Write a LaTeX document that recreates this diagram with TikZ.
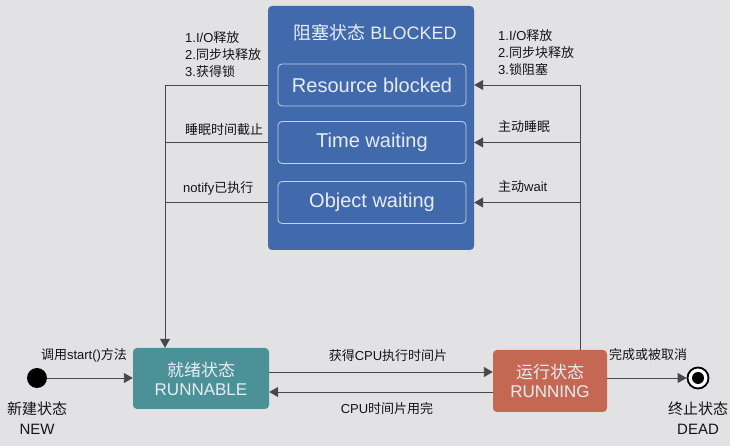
\documentclass[tikz,border=0pt]{standalone}
\usepackage{fontspec}
\setmainfont{Liberation Sans}
\newfontfamily\cjk{Noto Sans CJK SC}
\usetikzlibrary{arrows.meta,positioning}
\definecolor{paper}{RGB}{226,226,229}
\definecolor{blockblue}{RGB}{64,106,172}
\definecolor{readyteal}{RGB}{74,146,152}
\definecolor{runred}{RGB}{196,104,84}
\definecolor{wire}{RGB}{72,72,72}
\definecolor{boxtext}{RGB}{232,236,242}

\begin{document}
\begin{tikzpicture}[x=1pt,y=1pt,
  state/.style={rounded corners=4pt,text=boxtext,align=center,inner sep=0,font=\fontsize{17}{19}\selectfont},
  substate/.style={draw=boxtext!80!blockblue,line width=0.8pt,rounded corners=4pt,minimum width=188pt,minimum height=42pt,text=boxtext,font=\fontsize{20}{24}\selectfont},
  wireline/.style={draw=wire,line width=0.9pt},
  flow/.style={wireline,-{Triangle[length=9pt,width=10pt]}},
  lbl/.style={text=black!92,inner sep=0,font=\fontsize{13}{17}\selectfont}]
	\fill[paper] (0,0) rectangle (730,446);
	\useasboundingbox (0,0) rectangle (730,446);
	\node[state,fill=blockblue,minimum width=206pt,minimum height=244pt] (blocked) at (371,318) {};
	\node[text=boxtext,inner sep=0,font=\fontsize{18}{20}\selectfont] (blockedtitle) at (375,413) {{\cjk 阻塞状态} BLOCKED};
	\node[substate] (res) at (372,361) {Resource blocked};
	\node[substate] (tw) at (372,303.5) {Time waiting};
	\node[substate] (ow) at (372,243.5) {Object waiting};
	\node[state,fill=readyteal,minimum width=136pt,minimum height=61pt] (runnable) at (201,67.5) {{\cjk 就绪状态}\\RUNNABLE};
	\node[state,fill=runred,minimum width=114pt,minimum height=62pt] (running) at (550,65) {{\cjk 运行状态}\\RUNNING};
	\node[circle,fill=black,minimum size=20pt,inner sep=0] (new) at (37,68) {};
	\node[circle,draw=black,fill=white,line width=1.8pt,minimum size=21pt,inner sep=0] (dead) at (698,68) {};
	\node[circle,fill=black,minimum size=12pt,inner sep=0] (deadcore) at (dead) {};
	\node[lbl,align=center,font=\fontsize{15}{20}\selectfont] (newlbl) at (37,28) {{\cjk 新建状态}\\NEW};
	\node[lbl,align=center,font=\fontsize{15}{20}\selectfont] (deadlbl) at (698,28) {{\cjk 终止状态}\\DEAD};
	\coordinate (lbus) at (165,0);
	\coordinate (rbus) at (580,0);
	\draw[flow] (new) -- (runnable.west |- new);
	\draw[flow] ([yshift=6.5pt]runnable.east) -- ([yshift=6.5pt]runnable.east -| running.west);
	\draw[flow] ([yshift=-13.5pt]runnable.east -| running.west) -- ([yshift=-13.5pt]runnable.east);
	\draw[flow] (running.east |- dead) -- (dead);
	\draw[flow] (blocked.west |- res) -| (lbus |- runnable.north);
	\draw[wireline] (blocked.west |- tw) -- (lbus |- tw);
	\draw[wireline] (blocked.west |- ow) -- (lbus |- ow);
	\draw[flow] (rbus |- running.north) |- (blocked.east |- res);
	\draw[flow] (rbus |- tw) -- (blocked.east |- tw);
	\draw[flow] (rbus |- ow) -- (blocked.east |- ow);
	\node[lbl,align=left,anchor=west] (relA) at (185,391) {1.I/O{\cjk 释放}\\2.{\cjk 同步块释放}\\3.{\cjk 获得锁}};
	\node[lbl,anchor=west] (sleepend) at (185,316) {{\cjk 睡眠时间截止}};
	\node[lbl,anchor=west] (notified) at (183,258) {notify{\cjk 已执行}};
	\node[lbl,align=left,anchor=west] (relB) at (498,393.5) {1.I/O{\cjk 释放}\\2.{\cjk 同步块释放}\\3.{\cjk 锁阻塞}};
	\node[lbl,anchor=west] (sleep) at (498,319) {{\cjk 主动睡眠}};
	\node[lbl,anchor=west] (waitcall) at (498,259) {{\cjk 主动}wait};
	\node[lbl] (startcall) at (84,91) {{\cjk 调用}start(){\cjk 方法}};
	\node[lbl] (getcpu) at (388,90) {{\cjk 获得}CPU{\cjk 执行时间片}};
	\node[lbl] (cpuout) at (387,37) {CPU{\cjk 时间片用完}};
	\node[lbl] (finish) at (648,91) {{\cjk 完成或被取消}};
\end{tikzpicture}
\end{document}
